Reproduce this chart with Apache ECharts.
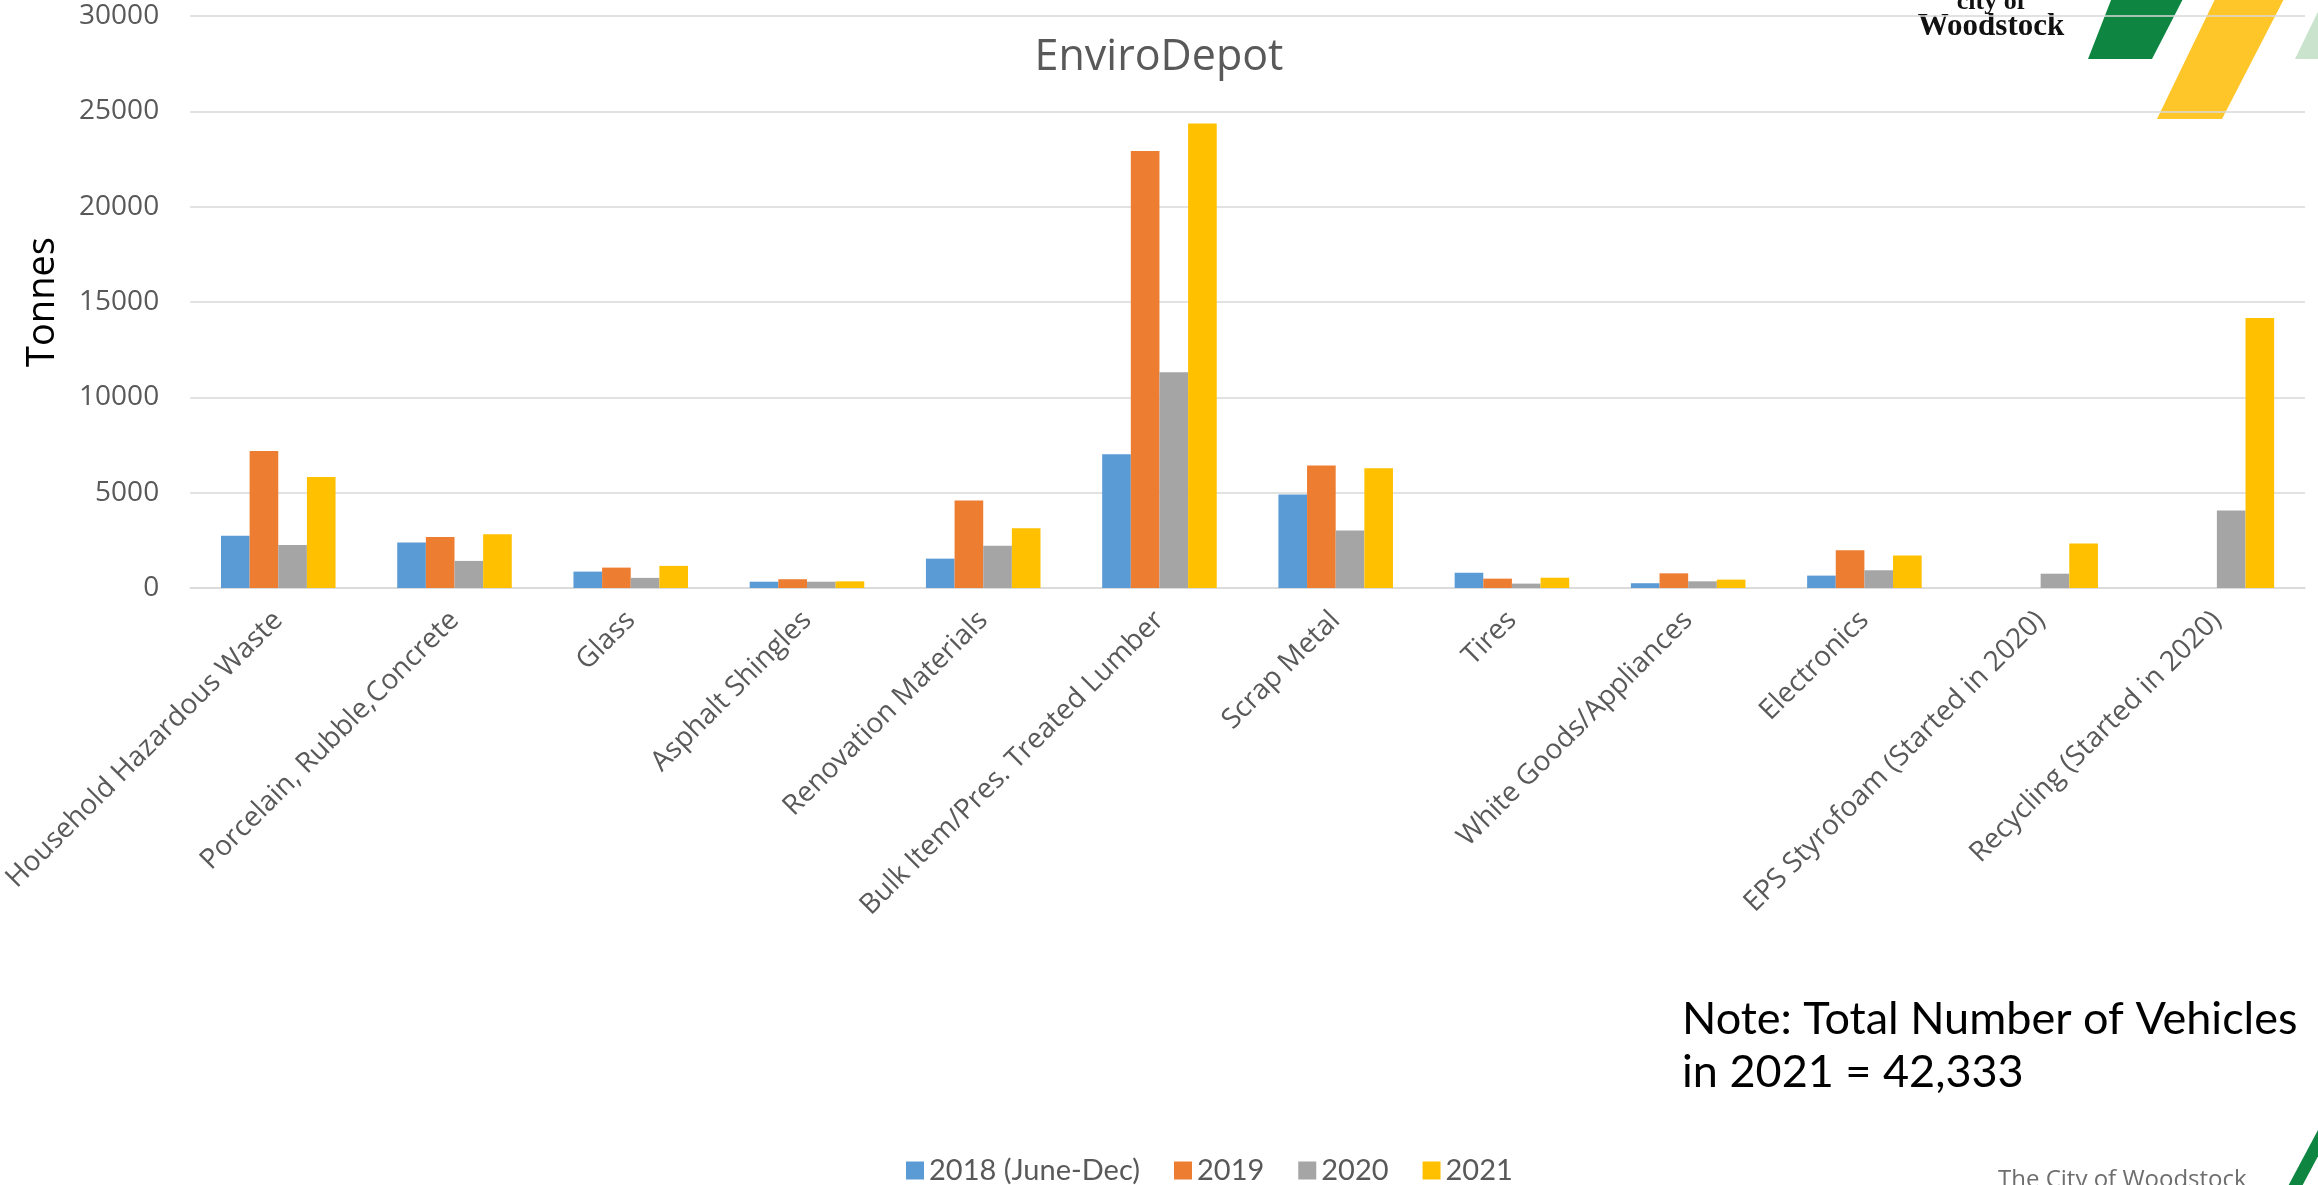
<!DOCTYPE html>
<html>
<head>
<meta charset="utf-8">
<script src="https://cdn.jsdelivr.net/npm/echarts@6/dist/echarts.min.js"></script>
<style>
html,body{margin:0;padding:0;background:#fff;}
#chart{width:2318px;height:1185px;}
</style>
</head>
<body>
<div id="chart"></div>
<script>
const categories = [
  'Household Hazardous Waste',
  'Porcelain, Rubble,Concrete',
  'Glass',
  'Asphalt Shingles',
  'Renovation Materials',
  'Bulk Item/Pres. Treated Lumber',
  'Scrap Metal',
  'Tires',
  'White Goods/Appliances',
  'Electronics',
  'EPS Styrofoam (Started in 2020)',
  'Recycling (Started in 2020)'
];
const seriesNames = ['2018 (June-Dec)', '2019', '2020', '2021'];
const values2018 = [2740, 2390, 860, 330, 1540, 7020, 4910, 800, 250, 650, null, null];
const values2019 = [7190, 2670, 1070, 460, 4590, 22920, 6430, 490, 770, 1980, null, null];
const values2020 = [2250, 1420, 530, 330, 2210, 11310, 3020, 230, 350, 930, 750, 4070];
const values2021 = [5820, 2820, 1160, 350, 3130, 24360, 6280, 540, 440, 1700, 2330, 14160];
const yMin = 0, yMax = 30000, yInterval = 5000;
const colors = ['#5B9BD5', '#ED7D31', '#A5A5A5', '#FFC000'];
const titleText = 'EnviroDepot';
const yAxisName = 'Tonnes';
const noteLines = ['Note: Total Number of Vehicles', 'in 2021 = 42,333'];
const footerText = 'The City of Woodstock';

const chart = echarts.init(document.getElementById('chart'), null, {renderer: 'canvas'});
const allValues = [values2018, values2019, values2020, values2021];

const option = {
  backgroundColor: '#ffffff',
  animation: false,
  color: colors,
  title: {
    text: titleText,
    left: 'center',
    top: 31,
    textStyle: {fontFamily: 'Open Sans', fontSize: 43, fontWeight: 'normal', color: '#595959'}
  },
  legend: {
    left: 901,
    top: 1151,
    icon: 'rect',
    itemWidth: 18,
    itemHeight: 18,
    itemGap: 34,
    textStyle: {fontFamily: 'Lato', fontSize: 29, color: '#595959'},
    data: seriesNames
  },
  grid: {left: 169, right: 13, top: 16, bottom: 597, containLabel: false},
  xAxis: {
    type: 'category',
    data: categories,
    axisLine: {show: true, lineStyle: {color: '#D9D9D9', width: 1.5}},
    axisTick: {show: false},
    axisLabel: {
      interval: 0, rotate: 45, margin: 28,
      fontFamily: 'Open Sans', fontSize: 28, color: '#595959'
    }
  },
  yAxis: {
    type: 'value',
    min: yMin, max: yMax, interval: yInterval,
    name: yAxisName,
    nameLocation: 'middle',
    nameGap: 128,
    nameTextStyle: {fontFamily: 'Open Sans', fontSize: 38, color: '#000000'},
    axisLine: {show: false},
    axisTick: {show: false},
    splitLine: {lineStyle: {color: '#D9D9D9', width: 1.5}},
    axisLabel: {margin: 31, fontFamily: 'Open Sans', fontSize: 28, color: '#595959',
      formatter: v => String(v)}
  },
  series: seriesNames.map((n, i) => ({
    name: n,
    type: 'bar',
    data: allValues[i],
    barGap: '0%',
    barCategoryGap: '35%',
    itemStyle: {color: colors[i]}
  })),
  graphic: [
    {type: 'polygon', z: -10, shape: {points: [[2113,-5],[2185,-5],[2152,59],[2088,59]]}, style: {fill: '#0E8641'}},
    {type: 'polygon', z: -10, shape: {points: [[2217,-5],[2286,-5],[2222,119],[2157,119]]}, style: {fill: '#FFC629'}},
    {type: 'polygon', z: -10, shape: {points: [[2295,59],[2345,59],[2376,-5],[2326,-5]]}, style: {fill: '#C9E3CD'}},
    {type: 'text', z: -10, style: {text: 'Woodstock', x: 1991, y: 42, align: 'center', verticalAlign: 'bottom', fontFamily: 'Liberation Serif', fontWeight: 'bold', fontSize: 31, fill: '#111111'}},
    {type: 'text', z: -10, style: {text: 'city of', x: 1991, y: 15, align: 'center', verticalAlign: 'bottom', fontFamily: 'Liberation Serif', fontWeight: 'bold', fontSize: 26, fill: '#111111'}},
    {type: 'text', style: {text: noteLines.join('\n'), x: 1682, y: 993, fontFamily: 'Lato', fontSize: 45, lineHeight: 53, fill: '#000000'}},
    {type: 'text', style: {text: footerText, x: 1998, y: 1168, fontFamily: 'Open Sans', fontSize: 24, fill: '#6E6E6E'}},
    {type: 'polygon', shape: {points: [[2286,1190],[2300,1190],[2348,1100],[2334,1100]]}, style: {fill: '#0E8641'}}
  ]
};
chart.setOption(option);
</script>
</body>
</html>
